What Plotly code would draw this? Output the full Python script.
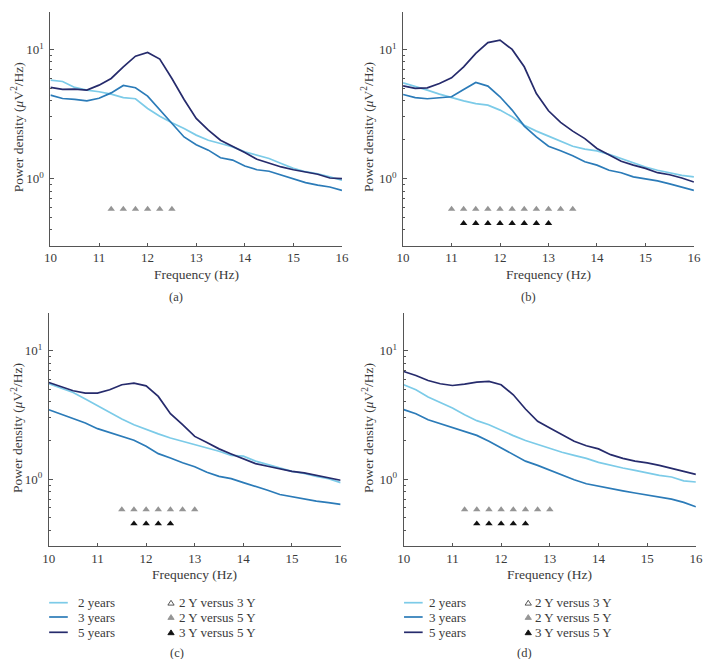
import plotly.graph_objects as go

W, H = 712, 659

freq = [10.0, 10.25, 10.5, 10.75, 11.0, 11.25, 11.5, 11.75, 12.0, 12.25, 12.5, 12.75,
        13.0, 13.25, 13.5, 13.75, 14.0, 14.25, 14.5, 14.75, 15.0, 15.25, 15.5, 15.75, 16.0]

# Panel (a)
a_2y = [5.78, 5.65, 5.08, 4.84, 4.70, 4.51, 4.24, 4.15, 3.49, 3.04, 2.70, 2.44, 2.17,
        1.98, 1.87, 1.76, 1.61, 1.52, 1.43, 1.31, 1.20, 1.13, 1.09, 1.03, 0.97]
a_3y = [4.43, 4.17, 4.10, 4.00, 4.19, 4.61, 5.26, 5.05, 4.35, 3.39, 2.67, 2.10, 1.83,
        1.66, 1.45, 1.39, 1.25, 1.17, 1.14, 1.07, 1.00, 0.93, 0.89, 0.86, 0.81]
a_5y = [5.08, 4.90, 4.92, 4.84, 5.29, 5.96, 7.34, 8.87, 9.48, 8.42, 5.96, 4.10, 2.92,
        2.37, 1.98, 1.78, 1.59, 1.41, 1.31, 1.23, 1.17, 1.13, 1.08, 1.01, 1.00]
# Panel (b)
b_2y = [5.52, 5.20, 4.84, 4.51, 4.22, 4.00, 3.81, 3.70, 3.39, 3.01, 2.59, 2.33, 2.13,
        1.96, 1.78, 1.69, 1.64, 1.54, 1.43, 1.31, 1.23, 1.16, 1.11, 1.06, 1.03]
b_3y = [4.48, 4.24, 4.15, 4.22, 4.30, 4.90, 5.55, 5.20, 4.30, 3.39, 2.55, 2.10, 1.78,
        1.64, 1.50, 1.35, 1.27, 1.16, 1.11, 1.03, 1.00, 0.96, 0.91, 0.86, 0.81]
b_5y = [5.23, 4.99, 5.04, 5.45, 6.03, 7.34, 9.31, 11.3, 11.8, 10.0, 7.34, 4.56, 3.35,
        2.72, 2.33, 2.04, 1.71, 1.52, 1.36, 1.27, 1.20, 1.11, 1.07, 1.01, 0.94]
# Panel (c)
c_2y = [5.52, 5.10, 4.72, 4.20, 3.72, 3.31, 2.94, 2.65, 2.43, 2.25, 2.09, 1.97, 1.86,
        1.75, 1.65, 1.53, 1.51, 1.38, 1.30, 1.22, 1.15, 1.11, 1.05, 1.01, 0.94]
c_3y = [3.47, 3.21, 2.99, 2.73, 2.47, 2.31, 2.15, 2.01, 1.80, 1.58, 1.46, 1.34, 1.25,
        1.13, 1.05, 1.01, 0.94, 0.88, 0.82, 0.76, 0.73, 0.70, 0.675, 0.656, 0.636]
c_5y = [5.65, 5.26, 4.87, 4.67, 4.67, 4.96, 5.42, 5.58, 5.32, 4.40, 3.23, 2.65, 2.15,
        1.93, 1.72, 1.57, 1.44, 1.32, 1.26, 1.20, 1.15, 1.12, 1.07, 1.02, 0.98]
# Panel (d)
d_2y = [5.42, 4.96, 4.35, 3.95, 3.57, 3.17, 2.85, 2.65, 2.40, 2.18, 2.00, 1.86, 1.72,
        1.62, 1.53, 1.45, 1.35, 1.28, 1.22, 1.17, 1.12, 1.07, 1.04, 0.97, 0.95]
d_3y = [3.47, 3.23, 2.90, 2.70, 2.50, 2.36, 2.19, 1.97, 1.75, 1.55, 1.38, 1.28, 1.17,
        1.07, 0.99, 0.92, 0.88, 0.84, 0.81, 0.78, 0.75, 0.72, 0.70, 0.66, 0.61]
d_5y = [6.87, 6.40, 5.85, 5.52, 5.35, 5.48, 5.69, 5.75, 5.42, 4.53, 3.51, 2.82, 2.50,
        2.22, 1.97, 1.82, 1.72, 1.55, 1.45, 1.38, 1.34, 1.28, 1.22, 1.15, 1.09]

# Significance markers (frequencies)
a_sig25 = [11.25, 11.5, 11.75, 12.0, 12.25, 12.5]
a_sig35 = []
b_sig25 = [11.0, 11.25, 11.5, 11.75, 12.0, 12.25, 12.5, 12.75, 13.0, 13.25, 13.5]
b_sig35 = [11.25, 11.5, 11.75, 12.0, 12.25, 12.5, 12.75, 13.0]
c_sig25 = [11.5, 11.75, 12.0, 12.25, 12.5, 12.75, 13.0]
c_sig35 = [11.75, 12.0, 12.25, 12.5]
d_sig25 = [11.25, 11.5, 11.75, 12.0, 12.25, 12.5, 12.75, 13.0]
d_sig35 = [11.5, 11.75, 12.0, 12.25, 12.5]
sig25_level = 0.58
sig35_level = 0.45

series_names = ["2 years", "3 years", "5 years"]
sig_names = ["2 Y versus 3 Y", "2 Y versus 5 Y", "3 Y versus 5 Y"]
panel_labels = ["(a)", "(b)", "(c)", "(d)"]

C2, C3, C5 = "#7ccbe8", "#2b7bb8", "#262b6c"
GRAY, BLACK = "#959595", "#111111"
AXC = "#555555"
FONT = "Liberation Serif, DejaVu Serif, serif"
TXT = "#3a3a3a"

def px(x):
    return x / W

def py(y):
    return 1 - y / H

# pixel boxes: x0, x1, ytop, ybottom
boxes = [(44.3, 341.7, 12, 245.7), (404, 700.7, 12, 245.7),
         (42.7, 340.3, 313.3, 546), (404.7, 702.7, 313.3, 546)]
ytitle_x = [11, 368, 10, 368]

data = [(a_2y, a_3y, a_5y, a_sig25, a_sig35), (b_2y, b_3y, b_5y, b_sig25, b_sig35),
        (c_2y, c_3y, c_5y, c_sig25, c_sig35), (d_2y, d_3y, d_5y, d_sig25, d_sig35)]

fig = go.Figure()
layout = dict(width=W, height=H, margin=dict(l=0, r=0, t=0, b=0),
              paper_bgcolor="white", plot_bgcolor="white", showlegend=False,
              font=dict(family=FONT, size=12, color=TXT))
annotations = []
shapes = []

minor_vals = [0.4, 0.5, 0.6, 0.7, 0.8, 0.9, 2, 3, 4, 5, 6, 7, 8, 9]

for i, (box, d) in enumerate(zip(boxes, data)):
    n = "" if i == 0 else str(i + 1)
    xa, ya = "x" + n, "y" + n
    s2, s3, s5, g25, g35 = d
    for ys, col in zip((s2, s3, s5), (C2, C3, C5)):
        fig.add_trace(go.Scatter(x=freq, y=ys, mode="lines", xaxis=xa, yaxis=ya,
                                 line=dict(color=col, width=1.7), hoverinfo="skip"))
    if g25:
        fig.add_trace(go.Scatter(x=g25, y=[sig25_level] * len(g25), mode="markers",
                                 xaxis=xa, yaxis=ya,
                                 marker=dict(symbol="triangle-up", size=6.5, color=GRAY)))
    if g35:
        fig.add_trace(go.Scatter(x=g35, y=[sig35_level] * len(g35), mode="markers",
                                 xaxis=xa, yaxis=ya,
                                 marker=dict(symbol="triangle-up", size=6.5, color=BLACK)))
    x0, x1, yt, yb = box
    layout["xaxis" + n] = dict(domain=[px(x0), px(x1)], anchor=ya, range=[10, 16],
                               showline=True, linecolor=AXC, linewidth=1,
                               ticks="inside", ticklen=3, tickcolor=AXC,
                               tickvals=[10, 11, 12, 13, 14, 15, 16],
                               showgrid=False, zeroline=False,
                               tickfont=dict(family=FONT, size=13, color=TXT))
    layout["yaxis" + n] = dict(domain=[py(yb), py(yt)], anchor=xa, type="log",
                               range=[-0.52, 1.29], showline=True, linecolor=AXC,
                               linewidth=1, ticks="inside", ticklen=4, tickcolor=AXC,
                               tickvals=[1, 10],
                               ticktext=["10<sup>0</sup>", "10<sup>1</sup>"],
                               minor=dict(tickvals=minor_vals, ticks="inside",
                                          ticklen=2, tickcolor=AXC),
                               showgrid=False, zeroline=False, ticklabelstandoff=3,
                               tickfont=dict(family=FONT, size=13, color=TXT))
    cx = (x0 + x1) / 2
    annotations.append(dict(text="Frequency (Hz)", x=px(cx), y=py(yb + 28.5),
                            xref="paper", yref="paper", showarrow=False,
                            xanchor="center", yanchor="middle",
                            font=dict(family=FONT, size=13.5, color=TXT)))
    annotations.append(dict(text="Power density (<i>μ</i>V<sup>2</sup>/Hz)",
                            x=px(ytitle_x[i]), y=py((yt + yb) / 2 - 1.5), xref="paper",
                            yref="paper", showarrow=False, textangle=-90,
                            xanchor="center", yanchor="middle",
                            font=dict(family=FONT, size=13.5, color=TXT)))

label_pos = [(172, 297), (532, 297), (173, 653), (528, 653)]
for lab, (lx, ly) in zip(panel_labels, label_pos):
    annotations.append(dict(text=lab, x=px(lx), y=py(ly), xref="paper", yref="paper",
                            showarrow=False, xanchor="center", yanchor="middle",
                            font=dict(family=FONT, size=12.5, color=TXT)))

# Manual legends under panels (c) and (d)
rows = [602.7, 617.0, 632.3]
leg_specs = [(43, 62, 70, 167.3, 173), (405, 424, 428, 531.7, 537)]
for lx0, lx1, ltx, tx, ttx in leg_specs:
    for name, col, ry in zip(series_names, (C2, C3, C5), rows):
        shapes.append(dict(type="line", xref="paper", yref="paper",
                           x0=px(lx0), x1=px(lx1), y0=py(ry), y1=py(ry),
                           line=dict(color=col, width=1.7)))
        annotations.append(dict(text=name, x=px(ltx), y=py(ry), xref="paper",
                                yref="paper", showarrow=False, xanchor="left",
                                yanchor="middle",
                                font=dict(family=FONT, size=13, color=TXT)))
    tri_style = [("white", "#444"), (GRAY, GRAY), (BLACK, BLACK)]
    for name, (fc, lc), ry in zip(sig_names, tri_style, rows):
        hw, hh = 3.2, 2.4
        path = (f"M {px(tx - hw)},{py(ry + hh)} L {px(tx + hw)},{py(ry + hh)} "
                f"L {px(tx)},{py(ry - hh)} Z")
        shapes.append(dict(type="path", xref="paper", yref="paper", path=path,
                           fillcolor=fc, line=dict(color=lc, width=0.9)))
        annotations.append(dict(text=name, x=px(ttx), y=py(ry), xref="paper",
                                yref="paper", showarrow=False, xanchor="left",
                                yanchor="middle",
                                font=dict(family=FONT, size=13, color=TXT)))

layout["annotations"] = annotations
layout["shapes"] = shapes
fig.update_layout(**layout)
fig.write_html("out.html")
